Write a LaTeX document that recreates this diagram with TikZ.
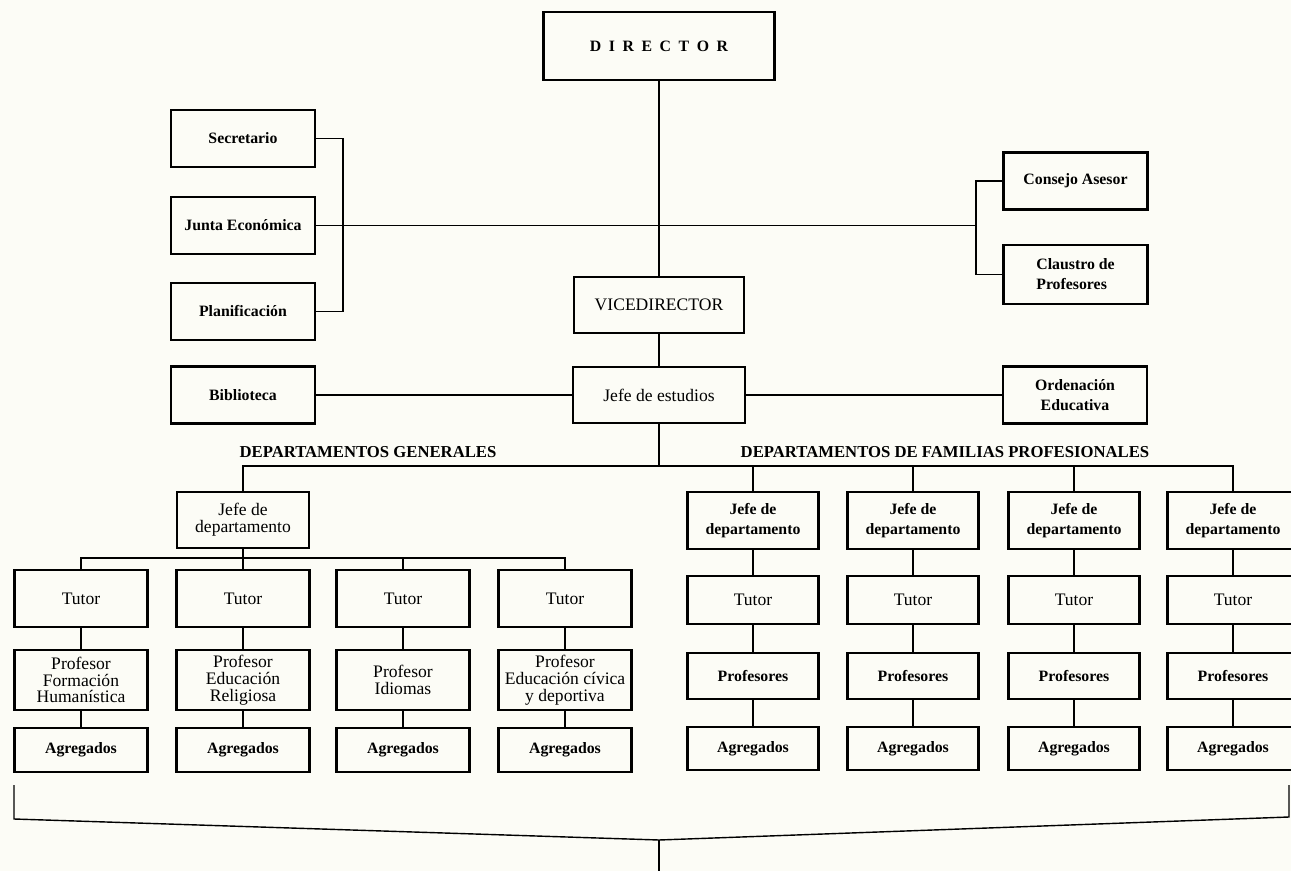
\documentclass[tikz,border=0pt]{standalone}
\usepackage{fontspec}
\setmainfont{Liberation Serif}
\definecolor{paper}{RGB}{252,252,246}
\tikzset{
  box/.style={draw, line width=1.6pt, align=center, inner sep=1pt, font=\fontsize{10}{9.6}\selectfont},
  bold/.style={font=\bfseries\fontsize{9}{11.3}\selectfont},
  side/.style={box, bold, minimum width=2.88cm, minimum height=1.14cm},
  lcol/.style={box, minimum width=2.66cm},
  rcol/.style={box, minimum width=2.62cm},
  link/.style={line width=1pt},
  brace/.style={line width=0.8pt}
}
\begin{document}
\begin{tikzpicture}[x=0.02cm, y=-0.02cm]
    \path [use as bounding box, fill=paper] (0,0) rectangle (1291,871);
    \node [box, bold, minimum width=4.62cm, minimum height=1.36cm] (dir) at (659,46) {D\kern4.3pt I\kern4.3pt R\kern4.3pt E\kern4.3pt C\kern4.3pt T\kern4.3pt O\kern4.3pt R};
    \node [box, minimum width=3.4cm, minimum height=1.12cm] (vice) at (659,305) {VICEDIRECTOR};
    \node [box, minimum width=3.44cm, minimum height=1.12cm] (jefe) at (659,395) {Jefe de estudios};
    \node [side] (sec) at (243,138.5) {Secretario};
    \node [side] (junta) at (243,225.5) {Junta Económica};
    \node [side] (plan) at (243,311.5) {Planificación};
    \node [side] (cons) at (1075.5,181) {Consejo Asesor};
    \node [side, align=left, minimum height=1.18cm] (claus) at (1075.5,274.5) {Claustro de\\Profesores};
    \node [side] (bib) at (243,395) {Biblioteca};
    \node [side] (orden) at (1075,395) {Ordenación\\Educativa};
    \node [bold, font=\bfseries\fontsize{9.5}{11.3}\selectfont] (gen) at (368,452) {DEPARTAMENTOS GENERALES};
    \node [bold, font=\bfseries\fontsize{9.5}{11.3}\selectfont] (fam) at (945,452) {DEPARTAMENTOS DE FAMILIAS PROFESIONALES};
    \coordinate (lb) at (343,225.5);
    \coordinate (rb) at (976,225.5);
    \coordinate (bus) at (659,466);
    \coordinate (sub) at (243,558);
    \draw [link] (dir) -- (vice);
    \draw [link] (vice) -- (jefe);
    \draw [link] (sec.east) -| (lb) |- (plan.east);
    \draw [link] (junta) -- (rb);
    \draw [link] (cons.west) -| (rb) |- (claus.west);
    \draw [link] (bib) -- (jefe);
    \draw [link] (jefe) -- (orden);
    \draw [link] (jefe) -- (bus);
    % departamentos generales
    \node [lcol, minimum width=2.64cm, minimum height=1.12cm] (gj) at (243,520) {Jefe de\\departamento};
    \node [lcol, minimum height=1.14cm] (gt1) at (81,598.5) {Tutor};
    \node [lcol, minimum height=1.14cm] (gt2) at (243,598.5) {Tutor};
    \node [lcol, minimum height=1.14cm] (gt3) at (403,598.5) {Tutor};
    \node [lcol, minimum height=1.14cm] (gt4) at (565,598.5) {Tutor};
    \node [lcol, minimum height=1.2cm] (gp1) at (81,680) {Profesor\\Formación\\Humanística};
    \node [lcol, minimum height=1.2cm] (gp2) at (243,680) {Profesor\\Educación\\Religiosa};
    \node [lcol, minimum height=1.2cm] (gp3) at (403,680) {Profesor\\Idiomas};
    \node [lcol, minimum height=1.2cm] (gp4) at (565,680) {Profesor\\Educación cívica\\y deportiva};
    \node [lcol, bold, minimum height=0.88cm] (ga1) at (81,750) {Agregados};
    \node [lcol, bold, minimum height=0.88cm] (ga2) at (243,750) {Agregados};
    \node [lcol, bold, minimum height=0.88cm] (ga3) at (403,750) {Agregados};
    \node [lcol, bold, minimum height=0.88cm] (ga4) at (565,750) {Agregados};
    % departamentos de familias profesionales
    \node [rcol, bold, minimum height=1.14cm] (fj1) at (753,520.5) {Jefe de\\departamento};
    \node [rcol, bold, minimum height=1.14cm] (fj2) at (913,520.5) {Jefe de\\departamento};
    \node [rcol, bold, minimum height=1.14cm] (fj3) at (1074,520.5) {Jefe de\\departamento};
    \node [rcol, bold, minimum height=1.14cm] (fj4) at (1233,520.5) {Jefe de\\departamento};
    \node [rcol, minimum height=0.96cm] (ft1) at (753,600) {Tutor};
    \node [rcol, minimum height=0.96cm] (ft2) at (913,600) {Tutor};
    \node [rcol, minimum height=0.96cm] (ft3) at (1074,600) {Tutor};
    \node [rcol, minimum height=0.96cm] (ft4) at (1233,600) {Tutor};
    \node [rcol, bold, minimum height=0.92cm] (fp1) at (753,676) {Profesores};
    \node [rcol, bold, minimum height=0.92cm] (fp2) at (913,676) {Profesores};
    \node [rcol, bold, minimum height=0.92cm] (fp3) at (1074,676) {Profesores};
    \node [rcol, bold, minimum height=0.92cm] (fp4) at (1233,676) {Profesores};
    \node [rcol, bold, minimum height=0.86cm] (fa1) at (753,748.5) {Agregados};
    \node [rcol, bold, minimum height=0.86cm] (fa2) at (913,748.5) {Agregados};
    \node [rcol, bold, minimum height=0.86cm] (fa3) at (1074,748.5) {Agregados};
    \node [rcol, bold, minimum height=0.86cm] (fa4) at (1233,748.5) {Agregados};
    \draw [link] (gj.north) |- (bus) -| (fj4.north);
    \draw [link] (fj1.north) -- (fj1.north |- bus);
    \draw [link] (fj2.north) -- (fj2.north |- bus);
    \draw [link] (fj3.north) -- (fj3.north |- bus);
    \draw [link] (gj) -- (gt2);
    \draw [link] (gt1.north) |- (sub) -| (gt4.north);
    \draw [link] (gt3.north) -- (gt3.north |- sub);
    \draw [link] (gt1) -- (gp1) -- (ga1);
    \draw [link] (gt2) -- (gp2) -- (ga2);
    \draw [link] (gt3) -- (gp3) -- (ga3);
    \draw [link] (gt4) -- (gp4) -- (ga4);
    \draw [link] (fj1) -- (ft1) -- (fp1) -- (fa1);
    \draw [link] (fj2) -- (ft2) -- (fp2) -- (fa2);
    \draw [link] (fj3) -- (ft3) -- (fp3) -- (fa3);
    \draw [link] (fj4) -- (ft4) -- (fp4) -- (fa4);
    % llave inferior
    \coordinate (bl) at (14,785);
    \coordinate (bk1) at (14,819);
    \coordinate (bm) at (659,840);
    \coordinate (bk2) at (1289,817);
    \coordinate (br) at (1289,785);
    \coordinate (bb) at (659,875);
    \draw [brace] (bl) -- (bk1) -- (bm) -- (bk2) -- (br);
    \draw [brace] (bm) -- (bb);
\end{tikzpicture}
\end{document}
